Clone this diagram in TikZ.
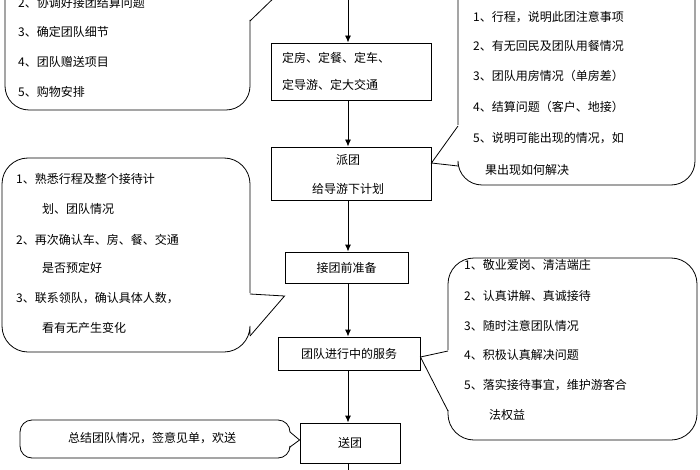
\documentclass[tikz,border=0pt]{standalone}
\usepackage{fontspec}
\setmainfont{Noto Sans CJK SC}
\usetikzlibrary{arrows.meta}
\begin{document}
\begin{tikzpicture}[x=1pt,y=-1pt,
  flowbox/.style={draw,line width=0.9pt,inner sep=0pt,font=\fontsize{12}{14}\selectfont,align=center},
  txt/.style={anchor=west,inner sep=0pt,font=\fontsize{12}{14}\selectfont},
  callout/.style={draw,line width=0.8pt},
  flow/.style={draw,line width=0.9pt,-{Latex[length=7pt,width=6pt]}}]
\useasboundingbox (0,0) rectangle (700,470);
\clip (0,0) rectangle (700,470);
% boxes
\node[flowbox,minimum width=160pt,minimum height=57pt] (b1) at (351,71.5) {};
\node[txt] (b1a) at (282,58) {定房、定餐、定车、};
\node[txt] (b1b) at (282,85) {定导游、定大交通};
\node[flowbox,minimum width=160pt,minimum height=53pt] (b2) at (351,173.5) {};
\node[inner sep=0pt,font=\fontsize{12}{14}\selectfont] (b2a) at (348,160) {派团};
\node[inner sep=0pt,font=\fontsize{12}{14}\selectfont] (b2b) at (348,189) {给导游下计划};
\node[flowbox,minimum width=123pt,minimum height=31pt] (b3) at (346.5,267.5) {接团前准备};
\node[flowbox,minimum width=142pt,minimum height=33pt] (b4) at (349,353.5) {团队进行中的服务};
\node[flowbox,minimum width=100pt,minimum height=40pt] (b5) at (350,443) {送团};
\coordinate (top) at (348,-5);
\coordinate (bot) at (348,475);
% connectors
\draw[flow] (top) -- (b1.north -| top);
\draw[flow] (b1.south -| top) -- (b2.north -| top);
\draw[flow] (b2.south -| top) -- (b3.north -| top);
\draw[flow] (b3.south -| top) -- (b4.north -| top);
\draw[flow] (b4.south -| top) -- (b5.north -| top);
\draw[line width=0.9pt] (b5.south -| top) -- (bot);
% callouts
\draw[callout,rounded corners=24pt] (250,20) -- (250,110) -- (5,110) -- (5,-40);
\draw[callout] (250,21) -- (280,-8);
\draw[callout,rounded corners=24pt] (458,125) -- (458,-40) -- (695,-40) -- (695,185) -- (458,185) -- (458,165);
\draw[callout] (458,126) -- (b2.east |- 0,163) -- (458,166);
\draw[callout,rounded corners=26pt] (250,293) -- (250,158) -- (2,158) -- (2,352) -- (250,352) -- (250,335);
\draw[callout] (250,294) -- (b3.west |- 0,296) -- (250,336);
\draw[callout,rounded corners=26pt] (448,350) -- (448,258) -- (697,258) -- (697,440) -- (448,440) -- (448,410);
\draw[callout] (448,351) -- (b4.east |- 0,357) -- (448,411);
\draw[callout,rounded corners=12pt] (290,431) -- (290,420) -- (20,420) -- (20,458) -- (290,458) -- (290,448);
\draw[callout] (290,432) -- (b5.west |- 0,440) -- (290,447);
% texts
\node[txt] (t1a) at (18,3) {2、协调好接团结算问题};
\node[txt] (t1b) at (18,32) {3、确定团队细节};
\node[txt] (t1c) at (18,62) {4、团队赠送项目};
\node[txt] (t1d) at (18,92) {5、购物安排};
\node[txt] (t2a) at (473,17) {1、行程，说明此团注意事项};
\node[txt] (t2b) at (473,46) {2、有无回民及团队用餐情况};
\node[txt] (t2c) at (473,76) {3、团队用房情况（单房差）};
\node[txt] (t2d) at (473,107) {4、结算问题（客户、地接）};
\node[txt] (t2e) at (473,138) {5、说明可能出现的情况，如};
\node[txt] (t2f) at (485,170) {果出现如何解决};
\node[txt] (t3a) at (16,179) {1、熟悉行程及整个接待计};
\node[txt] (t3b) at (42,209) {划、团队情况};
\node[txt] (t3c) at (16,240) {2、再次确认车、房、餐、交通};
\node[txt] (t3d) at (42,268) {是否预定好};
\node[txt] (t3e) at (16,298) {3、联系领队，确认具体人数，};
\node[txt] (t3f) at (42,328) {看有无产生变化};
\node[txt] (t4a) at (464,265) {1、敬业爱岗、清洁端庄};
\node[txt] (t4b) at (464,296) {2、认真讲解、真诚接待};
\node[txt] (t4c) at (464,326) {3、随时注意团队情况};
\node[txt] (t4d) at (464,355) {4、积极认真解决问题};
\node[txt] (t4e) at (464,385) {5、落实接待事宜，维护游客合};
\node[txt] (t4f) at (489,415) {法权益};
\node[inner sep=0pt,font=\fontsize{12}{14}\selectfont] (t5) at (152,438) {总结团队情况，签意见单，欢送};
\end{tikzpicture}
\end{document}
